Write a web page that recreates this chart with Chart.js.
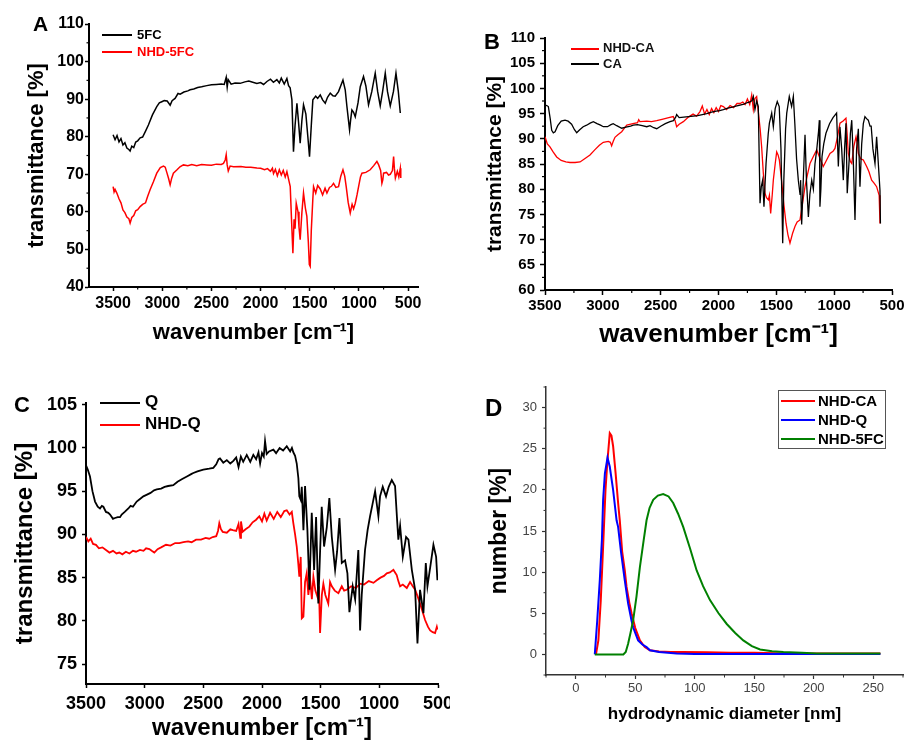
<!DOCTYPE html>
<html lang="en">
<head>
<meta charset="UTF-8">
<title>FTIR spectra and DLS size distribution</title>
<script src="https://cdn.jsdelivr.net/npm/chart.js"></script>
<style>
    body {
        margin: 0;
        width: 904px;
        height: 740px;
        overflow: hidden;
        position: relative;
        background: #fff;
        font-family: "Liberation Sans", Arial, sans-serif;
    }
    .panel { position: absolute; }
    .clip { position: absolute; overflow: hidden; }
    .letter { position: absolute; font-weight: 700; color: #000; line-height: 1; }
    .ln { position: absolute; }
    .lt { position: absolute; font-weight: 700; line-height: 20px; white-space: nowrap; }
    .dbox { position: absolute; border: 1.5px solid #555; box-sizing: border-box; }
</style>
</head>
<body>

<canvas id="chartA" class="panel" width="440" height="350" style="left:0;top:0"></canvas>
<canvas id="chartB" class="panel" width="480" height="360" style="left:440px;top:0"></canvas>
<div class="clip" style="left:0;top:380px;width:450px;height:360px">
    <canvas id="chartC" width="470" height="360" style="position:absolute;left:0;top:0"></canvas>
</div>
<canvas id="chartD" class="panel" width="454" height="360" style="left:450px;top:380px"></canvas>

<!-- panel letters -->
<div class="letter" style="left:33px;top:13px;font-size:21px">A</div>
<div class="letter" style="left:484px;top:31px;font-size:22px">B</div>
<div class="letter" style="left:14px;top:394px;font-size:22px">C</div>
<div class="letter" style="left:485px;top:396px;font-size:24px">D</div>

<!-- legend A -->
<div class="ln" style="left:102px;top:34px;width:30px;height:1.5px;background:#000"></div>
<div class="lt" style="left:137px;top:25px;font-size:13px;color:#000">5FC</div>
<div class="ln" style="left:102px;top:51px;width:30px;height:1.5px;background:#f00"></div>
<div class="lt" style="left:137px;top:42px;font-size:13px;color:#f00">NHD-5FC</div>

<!-- legend B -->
<div class="ln" style="left:571px;top:48px;width:28px;height:1.5px;background:#f00"></div>
<div class="lt" style="left:603px;top:38px;font-size:13px;color:#111">NHD-CA</div>
<div class="ln" style="left:571px;top:63px;width:28px;height:1.5px;background:#000"></div>
<div class="lt" style="left:603px;top:54px;font-size:13px;color:#111">CA</div>

<!-- legend C -->
<div class="ln" style="left:100px;top:402px;width:40px;height:2px;background:#000"></div>
<div class="lt" style="left:145px;top:392px;font-size:17px;color:#000">Q</div>
<div class="ln" style="left:100px;top:424px;width:40px;height:2px;background:#f00"></div>
<div class="lt" style="left:145px;top:414px;font-size:17px;color:#000">NHD-Q</div>

<!-- legend D -->
<div class="dbox" style="left:778px;top:390px;width:108px;height:59px"></div>
<div class="ln" style="left:781px;top:400px;width:34px;height:2px;background:#f00"></div>
<div class="lt" style="left:818px;top:391px;font-size:15px;color:#000">NHD-CA</div>
<div class="ln" style="left:781px;top:419px;width:34px;height:2px;background:#00f"></div>
<div class="lt" style="left:818px;top:410px;font-size:15px;color:#000">NHD-Q</div>
<div class="ln" style="left:781px;top:438px;width:34px;height:2px;background:#008000"></div>
<div class="lt" style="left:818px;top:429px;font-size:15px;color:#000">NHD-5FC</div>

<script>
    // ---- Datos: [numero de onda, transmitancia] ----
    const spec5FC = [
        [3500, 80.5], [3480, 79.2], [3460, 80.3], [3440, 78.6], [3420, 79.5], [3400, 77.8],
        [3380, 78.4], [3360, 77.0], [3340, 76.6], [3327, 76.2], [3310, 77.5], [3290, 77.1],
        [3270, 78.6], [3250, 78.9], [3225, 79.7], [3200, 79.9], [3170, 81.5], [3141, 83.1],
        [3100, 85.8], [3056, 88.0], [3030, 89.0], [3005, 89.3], [2980, 89.6], [2950, 89.5],
        [2920, 88.4], [2900, 89.6], [2870, 90.2], [2840, 91.5], [2818, 91.3], [2780, 91.9],
        [2740, 92.2], [2717, 92.5], [2680, 92.7], [2640, 93.1], [2600, 93.3], [2547, 93.6],
        [2500, 93.8], [2450, 93.9], [2400, 94.0], [2370, 93.9], [2350, 95.8], [2340, 93.2],
        [2330, 95.2], [2300, 94.0], [2260, 94.3], [2208, 94.2], [2160, 94.6], [2120, 94.8],
        [2080, 94.5], [2038, 94.2], [2000, 94.4], [1970, 93.9], [1936, 94.7], [1900, 95.3],
        [1870, 94.5], [1835, 95.2], [1810, 94.3], [1790, 95.6], [1760, 94.0], [1733, 95.5],
        [1716, 93.6], [1700, 93.0], [1682, 89.8], [1666, 76.0], [1650, 83.0], [1631, 88.9],
        [1615, 84.0], [1598, 78.3], [1580, 84.5], [1564, 88.5], [1540, 86.0], [1520, 80.0],
        [1503, 74.7], [1485, 83.0], [1469, 89.8], [1440, 90.8], [1420, 90.2], [1394, 91.1],
        [1370, 89.8], [1343, 88.9], [1320, 90.5], [1292, 91.6], [1265, 90.9], [1242, 90.8],
        [1208, 92.0], [1163, 95.1], [1140, 92.5], [1123, 88.1], [1096, 81.8], [1085, 84.5],
        [1072, 87.1], [1055, 86.5], [1038, 85.3], [1010, 89.0], [987, 93.3], [954, 96.0],
        [930, 93.5], [903, 88.5], [870, 92.0], [835, 96.9], [810, 92.0], [784, 88.2],
        [760, 92.0], [733, 96.9], [710, 92.0], [682, 88.2], [650, 92.0], [624, 96.9],
        [600, 92.0], [580, 86.3]
    ];
    const specNHD5FC = [
        [3500, 66.7], [3490, 65.3], [3480, 66.0], [3462, 65.0], [3440, 63.5], [3420, 62.4],
        [3400, 60.5], [3380, 59.8], [3360, 58.6], [3340, 58.2], [3327, 57.0], [3310, 58.5],
        [3290, 59.0], [3270, 60.3], [3250, 60.6], [3225, 61.4], [3200, 62.0], [3170, 62.4],
        [3150, 64.0], [3124, 65.9], [3090, 68.0], [3056, 70.3], [3020, 71.8], [2988, 72.2],
        [2970, 71.9], [2954, 70.5], [2935, 68.8], [2920, 67.2], [2905, 68.9], [2887, 70.3],
        [2850, 71.2], [2820, 72.0], [2785, 72.5], [2740, 72.3], [2700, 72.6], [2650, 72.3],
        [2600, 72.6], [2547, 72.5], [2500, 72.4], [2450, 72.7], [2400, 72.6], [2378, 72.9],
        [2360, 73.8], [2350, 75.2], [2340, 72.5], [2329, 70.9], [2310, 72.2], [2276, 72.0],
        [2200, 72.1], [2150, 71.9], [2100, 71.9], [2038, 71.7], [2000, 71.6], [1960, 71.2],
        [1930, 71.5], [1900, 70.8], [1880, 71.6], [1869, 70.2], [1850, 71.3], [1830, 69.6],
        [1810, 71.2], [1790, 69.8], [1770, 71.0], [1750, 69.3], [1733, 70.7], [1716, 68.7],
        [1699, 66.7], [1686, 58.0], [1672, 49.0], [1660, 58.0], [1650, 55.5], [1638, 62.3],
        [1620, 60.0], [1610, 56.0], [1598, 52.6], [1580, 60.0], [1564, 65.0], [1545, 61.0],
        [1530, 58.8], [1515, 52.0], [1505, 46.0], [1496, 45.5], [1485, 55.0], [1470, 63.0],
        [1462, 66.7], [1440, 65.0], [1420, 67.0], [1394, 66.1], [1370, 64.5], [1345, 66.3],
        [1326, 65.0], [1300, 66.5], [1280, 66.8], [1259, 67.6], [1235, 66.5], [1208, 66.7],
        [1185, 69.5], [1163, 71.2], [1145, 69.5], [1130, 66.7], [1110, 62.5], [1089, 59.7],
        [1070, 62.0], [1055, 60.8], [1038, 62.3], [1020, 64.5], [1004, 66.7], [985, 69.3],
        [970, 70.3], [930, 70.5], [886, 71.2], [850, 72.3], [818, 73.4], [800, 72.5],
        [780, 71.0], [767, 67.6], [758, 68.5], [750, 70.3], [720, 70.5], [700, 69.8],
        [682, 70.0], [660, 71.0], [648, 74.7], [640, 71.5], [630, 69.0], [610, 70.8],
        [595, 69.3], [580, 71.6], [575, 69.0]
    ];
    const specCA = [
        [3500, 96.7], [3485, 96.6], [3471, 96.4], [3455, 94.0], [3442, 91.7], [3428, 91.2],
        [3413, 91.4], [3390, 92.6], [3360, 93.5], [3327, 93.7], [3300, 93.5], [3270, 92.9],
        [3245, 91.8], [3226, 91.2], [3200, 91.8], [3170, 92.4], [3140, 92.7], [3110, 93.1],
        [3082, 93.4], [3050, 93.0], [3020, 92.7], [2996, 92.4], [2960, 92.4], [2930, 92.8],
        [2910, 93.0], [2880, 92.6], [2837, 92.1], [2800, 92.3], [2760, 92.5], [2737, 92.7],
        [2700, 92.8], [2660, 92.6], [2620, 92.4], [2592, 92.6], [2560, 92.2], [2534, 92.0],
        [2500, 92.5], [2460, 93.0], [2419, 93.4], [2390, 93.6], [2370, 94.3], [2362, 94.8],
        [2340, 94.2], [2300, 94.3], [2260, 94.4], [2218, 94.5], [2180, 94.6], [2140, 94.8],
        [2102, 95.0], [2060, 95.3], [2020, 95.5], [1990, 95.6], [1958, 95.8], [1920, 96.1],
        [1880, 96.3], [1850, 96.5], [1814, 96.7], [1780, 96.9], [1750, 97.2], [1728, 97.3],
        [1710, 97.6], [1699, 98.4], [1685, 95.8], [1670, 97.5], [1656, 96.4], [1641, 77.2],
        [1630, 80.5], [1618, 81.8], [1607, 76.5], [1589, 85.1], [1570, 91.0], [1560, 93.1],
        [1540, 95.1], [1526, 92.4], [1510, 96.0], [1492, 97.4], [1475, 96.4], [1460, 88.0],
        [1452, 78.0], [1445, 69.3], [1435, 82.0], [1420, 92.0], [1410, 95.1], [1388, 98.4],
        [1368, 96.4], [1353, 98.4], [1340, 93.0], [1325, 86.0], [1310, 81.8], [1295, 79.0],
        [1290, 81.8], [1281, 73.0], [1267, 81.8], [1252, 90.8], [1240, 82.0], [1223, 74.5],
        [1210, 79.0], [1194, 81.8], [1180, 80.0], [1166, 85.0], [1150, 88.0], [1135, 91.5],
        [1128, 93.7], [1123, 76.5], [1115, 80.0], [1105, 86.5], [1090, 89.0], [1071, 91.1],
        [1040, 93.0], [1010, 94.2], [979, 95.1], [964, 84.5], [950, 92.4], [935, 88.0],
        [921, 81.8], [910, 88.0], [898, 93.1], [887, 79.2], [870, 86.0], [860, 91.0],
        [848, 93.7], [835, 86.0], [820, 73.9], [806, 88.0], [791, 92.0], [777, 80.5],
        [762, 89.0], [748, 93.0], [734, 94.4], [720, 94.0], [705, 93.7], [690, 92.5],
        [680, 92.5], [665, 88.0], [647, 85.1], [633, 90.4], [618, 85.0], [604, 79.8],
        [600, 73.2]
    ];
    const specNHDCA = [
        [3500, 90.4], [3480, 89.0], [3457, 88.4], [3430, 87.4], [3399, 86.4], [3360, 85.7],
        [3320, 85.4], [3284, 85.3], [3240, 85.3], [3197, 85.4], [3160, 86.0], [3111, 86.8],
        [3070, 87.8], [3030, 88.7], [2996, 89.3], [2953, 89.5], [2935, 89.3], [2924, 88.6],
        [2910, 89.5], [2895, 90.3], [2870, 90.8], [2837, 91.4], [2810, 92.2], [2793, 92.7],
        [2740, 93.0], [2700, 93.2], [2690, 93.8], [2679, 93.4], [2620, 93.5], [2580, 93.4],
        [2534, 93.6], [2480, 93.9], [2430, 94.2], [2391, 94.4], [2375, 93.6], [2362, 92.4],
        [2340, 92.9], [2304, 93.4], [2260, 94.3], [2220, 94.9], [2190, 94.5], [2160, 95.4],
        [2140, 96.5], [2120, 94.9], [2100, 95.8], [2080, 94.8], [2060, 96.0], [2040, 95.2],
        [2020, 96.2], [2000, 95.4], [1980, 96.6], [1958, 96.4], [1930, 95.8], [1900, 96.6],
        [1870, 96.2], [1840, 97.0], [1814, 97.0], [1790, 97.3], [1770, 96.8], [1750, 97.9],
        [1730, 96.8], [1713, 98.7], [1699, 95.8], [1685, 98.0], [1670, 98.4], [1656, 95.4],
        [1640, 92.0], [1627, 88.4], [1612, 83.0], [1598, 79.2], [1585, 78.3], [1569, 77.9],
        [1560, 78.8], [1549, 75.2], [1535, 79.0], [1526, 81.8], [1510, 85.0], [1497, 87.4],
        [1485, 86.8], [1474, 85.8], [1455, 81.8], [1435, 77.0], [1416, 73.2], [1400, 71.0],
        [1382, 69.3], [1360, 71.2], [1339, 72.6], [1320, 73.5], [1295, 73.9], [1275, 77.0],
        [1252, 80.5], [1230, 83.0], [1209, 85.1], [1180, 86.5], [1151, 87.8], [1120, 86.0],
        [1094, 84.5], [1065, 85.8], [1036, 87.1], [1010, 87.5], [993, 88.1], [970, 90.5],
        [950, 93.1], [920, 93.6], [898, 94.1], [888, 91.0], [878, 87.1], [860, 85.5],
        [848, 85.1], [830, 88.5], [811, 90.4], [800, 89.0], [791, 87.1], [770, 86.0],
        [748, 85.8], [719, 84.5], [700, 83.5], [676, 81.8], [655, 81.2], [633, 80.5],
        [611, 78.8], [604, 73.2]
    ];
    const specQ = [
        [3500, 98.0], [3485, 97.5], [3466, 96.7], [3445, 95.0], [3423, 93.8], [3400, 93.2],
        [3381, 93.0], [3365, 93.3], [3352, 93.2], [3330, 92.6], [3310, 92.5], [3295, 92.3],
        [3270, 91.8], [3253, 91.9], [3230, 92.0], [3210, 92.0], [3196, 92.3], [3170, 92.6],
        [3139, 93.0], [3120, 93.3], [3100, 93.2], [3068, 93.8], [3040, 94.1], [3011, 94.4],
        [2980, 94.6], [2950, 94.8], [2920, 95.1], [2897, 95.2], [2860, 95.3], [2830, 95.5],
        [2800, 95.6], [2756, 95.7], [2720, 96.1], [2680, 96.4], [2640, 96.7], [2600, 97.0],
        [2585, 97.1], [2550, 97.3], [2500, 97.5], [2450, 97.6], [2415, 97.7], [2390, 98.1],
        [2370, 98.7], [2358, 98.8], [2330, 98.3], [2300, 98.6], [2270, 98.2], [2244, 98.5],
        [2220, 98.9], [2200, 97.8], [2180, 99.0], [2160, 98.4], [2130, 99.2], [2100, 98.4],
        [2074, 99.2], [2050, 98.7], [2030, 99.5], [2016, 98.2], [2000, 99.4], [1985, 99.0],
        [1974, 100.8], [1960, 99.3], [1940, 99.6], [1903, 99.8], [1880, 99.4], [1850, 100.0],
        [1820, 99.7], [1789, 100.2], [1760, 99.6], [1745, 100.0], [1733, 99.5], [1718, 99.1],
        [1704, 98.2], [1690, 96.5], [1682, 94.4], [1670, 94.0], [1661, 95.5], [1647, 90.5],
        [1633, 95.6], [1613, 90.5], [1596, 83.6], [1576, 92.5], [1556, 85.9], [1539, 92.0],
        [1520, 82.0], [1505, 88.0], [1491, 93.2], [1471, 88.6], [1448, 90.8], [1426, 94.2],
        [1405, 89.7], [1377, 85.9], [1360, 88.0], [1340, 91.9], [1320, 86.7], [1292, 87.0],
        [1272, 85.5], [1255, 81.0], [1227, 84.0], [1206, 82.5], [1179, 88.2], [1164, 78.9],
        [1150, 83.0], [1122, 88.2], [1100, 90.5], [1079, 92.1], [1058, 93.5], [1036, 95.0],
        [1008, 92.1], [994, 94.4], [971, 95.5], [943, 94.4], [920, 95.5], [894, 96.3],
        [866, 95.6], [850, 92.0], [838, 89.4], [823, 91.0], [800, 87.4], [772, 89.7],
        [752, 89.4], [723, 85.9], [695, 83.6], [675, 77.4], [653, 83.6], [624, 80.9],
        [604, 86.7], [590, 84.0], [561, 86.7], [539, 88.8], [516, 87.4], [505, 84.7]
    ];
    const specNHDQ = [
        [3500, 89.7], [3480, 89.2], [3460, 89.5], [3440, 88.9], [3415, 88.8], [3390, 88.4],
        [3360, 88.5], [3330, 88.2], [3300, 87.9], [3270, 88.1], [3240, 87.8], [3216, 87.9],
        [3190, 87.7], [3160, 88.0], [3130, 87.8], [3100, 88.1], [3074, 88.0], [3040, 88.2],
        [3010, 88.1], [2988, 88.4], [2960, 88.3], [2940, 88.1], [2918, 87.9], [2890, 88.3],
        [2860, 88.5], [2818, 88.8], [2780, 88.7], [2740, 89.0], [2705, 89.0], [2670, 89.1],
        [2630, 89.2], [2600, 89.1], [2562, 89.4], [2520, 89.4], [2480, 89.6], [2450, 89.5],
        [2420, 89.7], [2390, 89.8], [2375, 90.4], [2364, 91.3], [2350, 90.6], [2335, 90.3],
        [2300, 90.2], [2270, 90.6], [2249, 90.5], [2220, 90.4], [2200, 91.2], [2185, 89.6],
        [2179, 91.5], [2165, 90.3], [2140, 90.6], [2108, 90.9], [2080, 91.4], [2050, 91.7],
        [2023, 92.1], [2000, 91.5], [1980, 92.4], [1960, 91.6], [1931, 92.5], [1900, 91.8],
        [1870, 92.6], [1840, 92.0], [1810, 92.7], [1789, 92.8], [1765, 92.3], [1746, 92.6],
        [1733, 91.3], [1718, 90.0], [1704, 88.6], [1690, 86.5], [1682, 85.1], [1670, 87.4],
        [1661, 80.3], [1647, 80.5], [1633, 84.5], [1619, 85.5], [1605, 83.0], [1590, 84.8],
        [1575, 82.5], [1562, 85.1], [1545, 83.5], [1528, 82.8], [1515, 84.0], [1505, 78.6],
        [1490, 83.0], [1477, 84.3], [1460, 83.0], [1435, 82.0], [1420, 84.5], [1405, 84.0],
        [1380, 83.5], [1349, 83.2], [1320, 84.0], [1300, 83.5], [1278, 83.6], [1240, 84.0],
        [1200, 83.8], [1164, 84.3], [1130, 84.2], [1090, 84.6], [1050, 84.4], [1022, 84.7],
        [990, 85.0], [960, 85.2], [937, 85.5], [910, 85.6], [880, 85.9], [866, 85.6],
        [852, 85.3], [838, 84.6], [823, 84.0], [800, 84.2], [766, 83.8], [738, 84.5],
        [715, 84.0], [695, 83.6], [673, 82.8], [653, 82.0], [630, 81.0], [610, 80.1],
        [585, 79.3], [567, 78.9], [545, 78.7], [525, 78.6], [510, 79.3], [505, 79.0]
    ];

    // ---- DLS: [diametro nm, numero %] ----
    const dlsCA = [
        [17, 0], [19, 1.7], [21, 6.5], [23, 13.1], [25, 20.0], [26.5, 23.3], [28.6, 26.9],
        [30, 26.6], [31.4, 25.3], [33.5, 22.0], [35.6, 18.4], [37, 16.3], [39, 12.5],
        [41.2, 10.2], [42.7, 8.2], [45, 6.3], [46.9, 5.0], [50, 3.2], [53.9, 1.7], [58, 0.9],
        [62.3, 0.5], [70, 0.35], [80, 0.3], [90, 0.3], [110, 0.25], [130, 0.2], [150, 0.2],
        [168, 0.15], [200, 0.1], [230, 0.1], [256, 0.1]
    ];
    const dlsQ = [
        [16, 0], [18, 4.0], [20.2, 9.0], [22, 14.0], [23, 18.8], [24.5, 22.0], [26.7, 23.9],
        [28.6, 22.8], [31.4, 20.0], [34.3, 16.3], [35.6, 15.5], [38, 12.5], [41.2, 9.0],
        [44, 6.2], [46.9, 4.1], [48.2, 3.3], [52.4, 1.7], [56, 1.2], [59.5, 0.9], [62.3, 0.5],
        [70, 0.3], [84.8, 0.1], [100, 0.05], [150, 0.05], [200, 0.05], [256, 0.05]
    ];
    const dls5FC = [
        [16, 0], [30, 0], [40, 0], [42, 0.3], [44, 1.3], [46, 2.6], [48.2, 4.1], [51, 7.0],
        [53.9, 10.6], [57, 13.8], [59.5, 16.3], [62, 17.8], [65.1, 18.8], [69, 19.3],
        [73.5, 19.5], [78, 19.2], [81.9, 18.4], [86, 17.1], [90.3, 15.5], [96, 12.9],
        [101.6, 10.2], [107, 8.3], [112.8, 6.6], [120, 5.0], [126.9, 3.7], [134, 2.6],
        [140.8, 1.7], [148, 1.0], [154.9, 0.6], [165, 0.4], [174.5, 0.3], [190, 0.2],
        [202.6, 0.1], [230, 0.1], [256, 0.1]
    ];

    const irTicksX = [3500, 3000, 2500, 2000, 1500, 1000, 500];
    const ticksYA = [40, 50, 60, 70, 80, 90, 100, 110];
    const ticksYB = [60, 65, 70, 75, 80, 85, 90, 95, 100, 105, 110];
    const ticksYC = [75, 80, 85, 90, 95, 100, 105];
    const ticksXD = [0, 50, 100, 150, 200, 250];
    const ticksYD = [0, 5, 10, 15, 20, 25, 30];

    const FONT = '"Liberation Sans", Arial, sans-serif';
    const IR_TITLE = 'wavenumber [cm\u207B\u00B9]';

    // marcas menores (Chart.js no las tiene)
    const minorTicks = {
        id: 'minorTicks',
        afterDraw(chart, args, opts) {
            const {ctx, chartArea} = chart;
            ctx.save();
            ctx.strokeStyle = opts.color;
            ctx.lineWidth = opts.width;
            ['x', 'y'].forEach(id => {
                const step = opts[id];
                if (!step) return;
                const s = chart.scales[id];
                const majors = s.ticks.map(t => t.value);
                for (let v = Math.ceil(s.min / step) * step; v <= s.max + 1e-9; v += step) {
                    if (majors.some(m => Math.abs(m - v) < 1e-6)) continue;
                    const p = s.getPixelForValue(v);
                    ctx.beginPath();
                    if (id === 'x') {
                        ctx.moveTo(p, chartArea.bottom);
                        ctx.lineTo(p, chartArea.bottom + opts.len);
                    } else {
                        ctx.moveTo(chartArea.left, p);
                        ctx.lineTo(chartArea.left - opts.len, p);
                    }
                    ctx.stroke();
                }
            });
            ctx.restore();
        }
    };
    Chart.register(minorTicks);

    function panel(id, o) {
        const noPad = s => { s.paddingTop = 0; s.paddingBottom = 0; s.paddingLeft = 0; s.paddingRight = 0; };
        const axis = (a, isX) => ({
            type: 'linear',
            min: a.min,
            max: a.max,
            reverse: !!a.reverse,
            afterFit: s => { if (isX) s.height = o.xH; else s.width = o.yW; noPad(s); },
            afterBuildTicks: s => { s.ticks = a.ticks.map(v => ({value: v})); },
            border: {display: true, color: o.axisColor, width: o.axisW},
            grid: {drawOnChartArea: false, drawTicks: true, tickLength: o.tl, tickColor: o.axisColor, tickWidth: o.tw},
            ticks: {
                font: {family: FONT, size: o.tickSize, weight: o.tickWeight},
                color: o.tickColor,
                padding: a.pad,
                maxRotation: 0,
                autoSkip: false,
                callback: v => String(v)
            },
            title: {
                display: true,
                text: a.title,
                color: '#000',
                font: {family: FONT, size: a.titleSize, weight: 'bold', lineHeight: a.titleLH || 1.2},
                padding: isX ? {top: 0, bottom: a.titlePad} : {top: a.titlePad, bottom: 0}
            }
        });
        return new Chart(document.getElementById(id), {
            type: 'scatter',
            data: {
                datasets: o.sets.map(s => ({
                    label: s.label,
                    data: s.pts.map(p => ({x: p[0], y: p[1]})),
                    showLine: true,
                    borderColor: s.color,
                    backgroundColor: s.color,
                    borderWidth: o.lw,
                    pointRadius: 0,
                    tension: 0
                }))
            },
            options: {
                responsive: false,
                animation: false,
                layout: {padding: {top: o.padT, right: o.padR, left: 0, bottom: 0}},
                plugins: {legend: {display: false}, tooltip: {enabled: false}, minorTicks: o.minor},
                scales: {x: axis(o.x, true), y: axis(o.y, false)}
            }
        });
    }

    // A
    panel('chartA', {
        padT: 24, padR: 22, yW: 89, xH: 63, lw: 1.5,
        axisColor: '#000', axisW: 2, tl: 4, tw: 1.5,
        tickSize: 16, tickWeight: 'bold', tickColor: '#000',
        minor: {x: 250, y: 5, len: 2.5, color: '#000', width: 1.2},
        x: {min: 400, max: 3745, reverse: true, ticks: irTicksX, pad: 3, title: IR_TITLE, titleSize: 22, titlePad: 4},
        y: {min: 40, max: 110, ticks: ticksYA, pad: 1, title: 'transmittance [%]', titleSize: 22, titlePad: 24},
        sets: [
            {label: '5FC', pts: spec5FC, color: '#000'},
            {label: 'NHD-5FC', pts: specNHD5FC, color: '#ff0000'}
        ]
    });

    // B
    panel('chartB', {
        padT: 38, padR: 28, yW: 105, xH: 70, lw: 1.3,
        axisColor: '#000', axisW: 2, tl: 5, tw: 1.5,
        tickSize: 15, tickWeight: 'bold', tickColor: '#000',
        minor: {x: 250, y: 2.5, len: 3, color: '#000', width: 1.2},
        x: {min: 500, max: 3500, reverse: true, ticks: irTicksX, pad: 2, title: IR_TITLE, titleSize: 26, titlePad: 10},
        y: {min: 60, max: 110, ticks: ticksYB, pad: 5, title: 'transmittance [%]', titleSize: 21, titlePad: 43},
        sets: [
            {label: 'CA', pts: specCA, color: '#000'},
            {label: 'NHD-CA', pts: specNHDCA, color: '#ff0000'}
        ]
    });

    // C
    panel('chartC', {
        padT: 23, padR: 32, yW: 86, xH: 56, lw: 1.8,
        axisColor: '#000', axisW: 2, tl: 4, tw: 1.5,
        tickSize: 18, tickWeight: 'bold', tickColor: '#000',
        minor: false,
        x: {min: 500, max: 3500, reverse: true, ticks: irTicksX, pad: 5, title: IR_TITLE, titleSize: 24, titleLH: 1.0, titlePad: 0},
        y: {min: 72.7, max: 105.2, ticks: ticksYC, pad: 5, title: 'transmittance [%]', titleSize: 24, titlePad: 11},
        sets: [
            {label: 'Q', pts: specQ, color: '#000'},
            {label: 'NHD-Q', pts: specNHDQ, color: '#ff0000'}
        ]
    });

    // D
    panel('chartD', {
        padT: 7, padR: 1, yW: 96, xH: 65, lw: 2,
        axisColor: '#333', axisW: 1.5, tl: 4, tw: 1.2,
        tickSize: 13, tickWeight: 'normal', tickColor: '#444',
        minor: {x: 25, y: 2.5, len: 2.5, color: '#333', width: 1},
        x: {min: -25, max: 275, ticks: ticksXD, pad: 2, title: 'hydrodynamic diameter [nm]', titleSize: 17, titlePad: 15},
        y: {min: -2.5, max: 32.5, ticks: ticksYD, pad: 5, title: 'number [%]', titleSize: 23, titlePad: 36},
        sets: [
            {label: 'NHD-5FC', pts: dls5FC, color: '#008000'},
            {label: 'NHD-Q', pts: dlsQ, color: '#0000ff'},
            {label: 'NHD-CA', pts: dlsCA, color: '#ff0000'}
        ]
    });
</script>
</body>
</html>
